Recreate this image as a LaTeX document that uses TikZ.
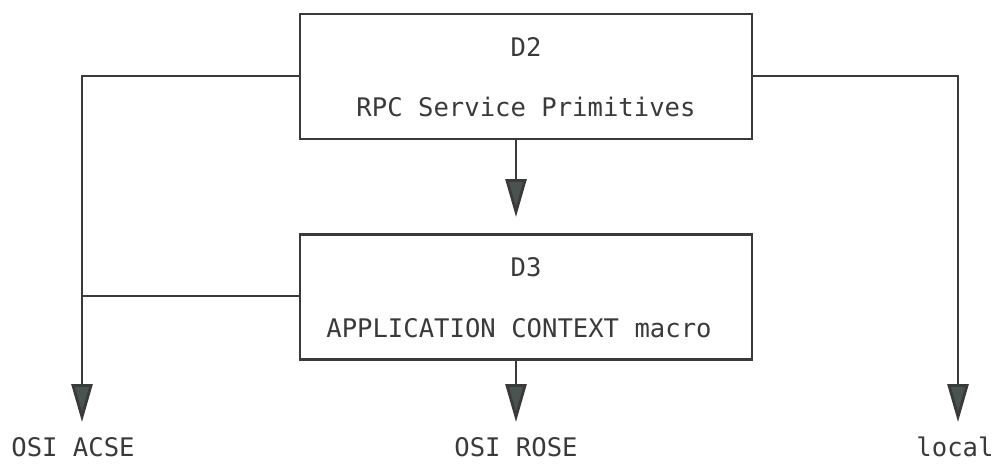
\documentclass[tikz,border=0pt]{standalone}
\usepackage{fontspec}
\setmonofont{DejaVu Sans Mono}
\usetikzlibrary{arrows.meta}
\definecolor{ink}{HTML}{3A3A3A}
\definecolor{tipfill}{HTML}{4A544F}
\tikzset{
  layer/.style={draw=ink, line width=2.8pt, minimum width=452pt, minimum height=125pt, inner sep=0pt},
  lbl/.style={text=ink, font=\ttfamily\fontsize{25.6}{30}\selectfont, inner sep=0pt},
  link/.style={draw=ink, line width=2.8pt},
  flow/.style={link, -{Triangle[length=38pt,width=21pt,fill=tipfill]}},
}
\begin{document}
\begin{tikzpicture}[x=1pt,y=-1pt]
  \useasboundingbox (0,0) rectangle (994,466);
  % the two layers
  \node[layer] (d2) at (526,76.5) {};
  \node[layer] (d3) at (526,297) {};
  \node[lbl] (d2t) at (526,47) {D2};
  \node[lbl] (d2s) at (526,107) {RPC Service Primitives};
  \node[lbl] (d3t) at (526,267) {D3};
  \node[lbl] (d3s) at (519,328) {APPLICATION CONTEXT macro};
  % targets
  \coordinate (acse) at (82,422);
  \coordinate (rose) at (516,422);
  \coordinate (loc)  at (958,422);
  \coordinate (mid)  at (516,217);
  \node[lbl] (acset) at (73,447) {OSI ACSE};
  \node[lbl] (roset) at (516,447) {OSI ROSE};
  \node[lbl] (loct)  at (955,447) {local};
  % connectors
  \draw[flow] (d2.west |- 0,76) -| (acse);
  \draw[link] (d3.west |- 0,296) -- (82,296);
  \draw[flow] (d2.east |- 0,76) -| (loc);
  \draw[flow] (d2.south -| mid) -- (mid);
  \draw[flow] (d3.south -| rose) -- (rose);
\end{tikzpicture}
\end{document}
